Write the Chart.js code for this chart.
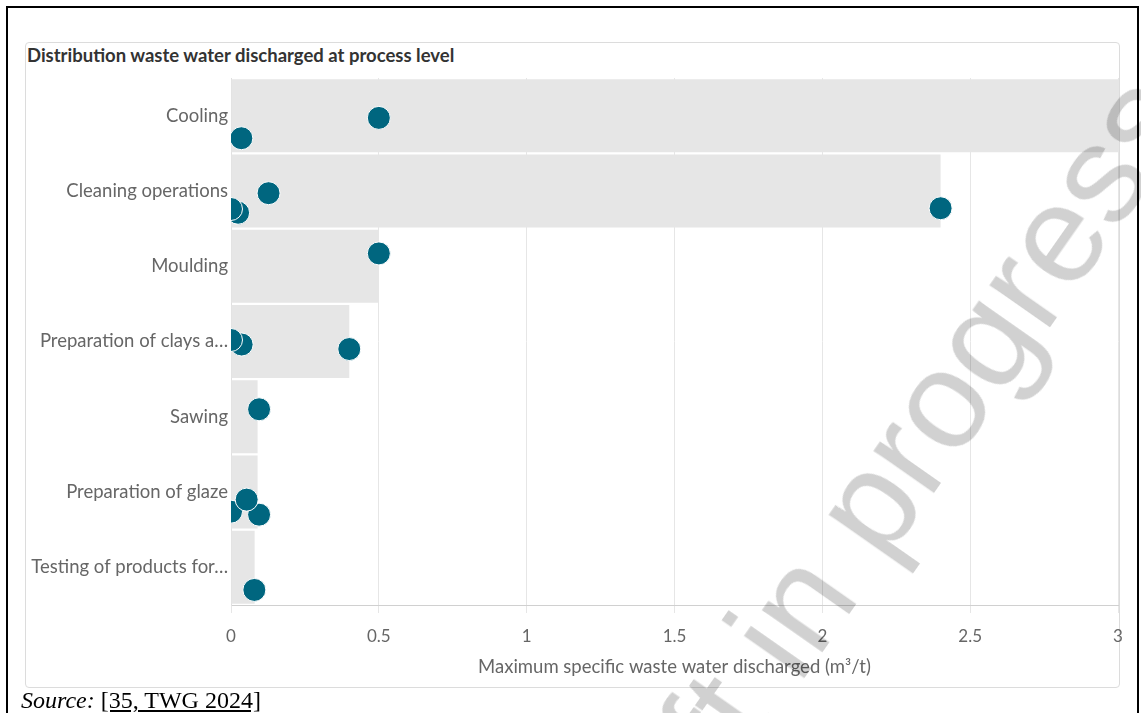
<!DOCTYPE html>
<html>
<head>
<meta charset="utf-8">
<script src="https://cdn.jsdelivr.net/npm/chart.js@4.4.1/dist/chart.umd.min.js"></script>
<style>
  html, body { margin: 0; padding: 0; background: #fff; }
  body { width: 1141px; height: 713px; overflow: hidden; position: relative; font-family: Lato, "Noto Sans", sans-serif; }
  #frame { position: absolute; left: 6px; top: 6px; width: 1129px; height: 800px; border: 2px solid #000; box-sizing: content-box; }
  #card { position: absolute; left: 25px; top: 42px; width: 1093px; height: 644px; border: 1px solid #dcdcdc; border-radius: 4px; background: #fff; }
  #title { position: absolute; left: 27px; top: 43.5px; font: bold 18.5px Lato, sans-serif; color: #333; line-height: 22px; white-space: nowrap; }
  #chart { position: absolute; left: 0; top: 0; }
  #source { position: absolute; left: 21px; top: 687px; font: 24px "Liberation Serif", "Times New Roman", serif; color: #000; line-height: 26px; white-space: nowrap; }
  #source a { color: #000; text-decoration: underline; }
  #wm { position: absolute; left: 603px; top: 847.5px; transform-origin: 0 118.5px; transform: rotate(-55deg);
        font: 140px "Liberation Sans", Arial, sans-serif; line-height: 140px; color: rgba(0,0,0,0.18); white-space: nowrap; pointer-events: none; z-index: 10; }
</style>
</head>
<body>
<div id="frame"></div>
<div id="card"></div>
<div id="title">Distribution waste water discharged at process level</div>
<canvas id="chart" width="1141" height="713"></canvas>
<div id="source"><i>Source:</i> <a>[35, TWG 2024]</a></div>
<div id="wm">Draft in progress</div>
<script>
// ---- data ----
const categories = ['Cooling', 'Cleaning operations', 'Moulding', 'Preparation of clays a\u2026', 'Sawing', 'Preparation of glaze', 'Testing of products for\u2026'];
const maxValues = [3, 2.4, 0.5, 0.4, 0.09, 0.09, 0.08];
// individual plant values (m3/t), their category index and vertical jitter within the row
const pointCategory = [0, 0, 1, 1, 1, 1, 2, 3, 3, 3, 4, 5, 5, 5, 6];
const pointValues   = [0.5, 0.035, 0.127, 0.024, 0.0, 2.4, 0.5, 0.036, 0.0, 0.4, 0.095, 0.0, 0.095, 0.053, 0.079];
const pointJitter   = [0.03, 0.30, 0.03, 0.29, 0.24, 0.23, -0.17, 0.04, -0.02, 0.10, -0.10, 0.26, 0.30, 0.10, 0.30];
const xTicks = [0, 0.5, 1, 1.5, 2, 2.5, 3];
const xTitle = 'Maximum specific waste water discharged (m\u00b3/t)';

const points = pointValues.map((v, i) => ({ x: v, y: pointCategory[i] + pointJitter[i] }));

new Chart(document.getElementById('chart'), {
  type: 'bar',
  data: {
    labels: categories,
    datasets: [
      {
        type: 'scatter',
        indexAxis: 'x',
        data: points,
        xAxisID: 'x',
        yAxisID: 'y2',
        backgroundColor: '#00667f',
        borderColor: '#ffffff',
        borderWidth: 1,
        pointRadius: 11.5,
        pointHoverRadius: 11.5,
        clip: { left: 0, top: false, right: false, bottom: false },
        order: 0
      },
      {
        type: 'bar',
        data: maxValues,
        xAxisID: 'x',
        yAxisID: 'y',
        backgroundColor: '#e6e6e6',
        borderWidth: 0,
        grouped: false,
        barPercentage: 0.97,
        categoryPercentage: 1,
        order: 1
      }
    ]
  },
  options: {
    indexAxis: 'y',
    responsive: false,
    animation: false,
    events: [],
    layout: { padding: { top: 78, right: 23, bottom: 0, left: 0 } },
    plugins: { legend: { display: false }, tooltip: { enabled: false }, title: { display: false } },
    scales: {
      x: {
        type: 'linear',
        position: 'bottom',
        min: 0, max: 3,
        offset: false,
        afterBuildTicks: s => { s.ticks = xTicks.map(v => ({ value: v })); },
        ticks: { color: '#666', font: { family: 'Lato', size: 17 }, padding: 13, callback: v => String(v) },
        grid: { color: '#e6e6e6', lineWidth: 1, tickLength: 8, drawOnChartArea: true, offset: false },
        border: { display: true, color: '#d0d0d0' },
        title: { display: true, text: xTitle, color: '#666', font: { family: 'Lato', size: 18.5 }, padding: { top: 0, bottom: 35 } },
        afterFit: s => { s.height = 108; }
      },
      y: {
        type: 'category',
        position: 'left',
        grid: { display: false, drawTicks: false },
        border: { display: true, color: '#e0e0e0' },
        ticks: { color: '#666', font: { family: 'Lato', size: 18.5 }, padding: 3 },
        afterFit: s => { s.width = 231; }
      },
      y2: {
        type: 'linear',
        display: false,
        offset: false,
        grid: { offset: false },
        min: -0.5, max: 6.5,
        reverse: true
      }
    }
  }
});
</script>
</body>
</html>
